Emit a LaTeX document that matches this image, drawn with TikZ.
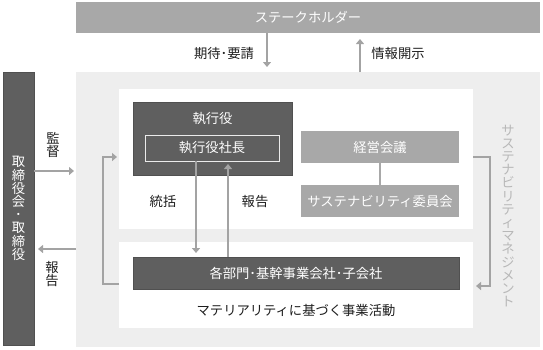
\documentclass[tikz,border=0pt]{standalone}
\usepackage{fontspec}
\setmainfont{Noto Sans CJK JP}
\usetikzlibrary{arrows.meta}
\definecolor{darkbox}{HTML}{5F5F5F}
\definecolor{darkline}{HTML}{505050}
\definecolor{midbox}{HTML}{A8A8A8}
\definecolor{bggray}{HTML}{EEEEEE}
\definecolor{arrgray}{HTML}{A3A3A3}
\definecolor{vtgray}{HTML}{B8B8B8}
\definecolor{txt}{HTML}{1E1E1E}
\tikzset{
  box/.style={rectangle, inner sep=0pt, outer sep=0pt},
  darkrect/.style={box, fill=darkbox, draw=darkline, line width=0.6pt},
  midrect/.style={box, fill=midbox},
  whiterect/.style={box, fill=white},
  wtext/.style={text=white, font=\fontsize{13.3}{14}\selectfont, inner sep=0pt},
  btext/.style={text=txt, font=\fontsize{13.3}{14}\selectfont, inner sep=0pt},
  vtext/.style={align=center, inner sep=0pt, font=\fontsize{13.3}{13.2}\selectfont},
  arr/.style={draw=arrgray, line width=1.3pt, -{Triangle[width=8pt,length=5pt]}},
  link/.style={draw=arrgray, line width=1.3pt},
}
\begin{document}
\begin{tikzpicture}[x=1pt,y=-1pt]
\useasboundingbox (0,0) rectangle (543,349);
% main areas
\node[midrect, minimum width=464pt, minimum height=31pt] (stake) at (308,17.5) {};
\node[wtext] (staketext) at (308,17.5) {ステークホルダー};
\node[box, fill=bggray, minimum width=464pt, minimum height=275pt] (bg) at (308,209.5) {};
\node[darkrect, minimum width=31pt, minimum height=273pt] (board) at (18.5,208.5) {};
\node[vtext, text=white] (boardtext) at (18.5,208.5) {取\\締\\役\\会\\･\\取\\締\\役};
\node[whiterect, minimum width=354pt, minimum height=140pt] (upw) at (296,159) {};
\node[whiterect, minimum width=354pt, minimum height=86pt] (loww) at (296,285) {};
% executive
\node[darkrect, minimum width=159pt, minimum height=73pt] (exec) at (212.5,138.5) {};
\node[wtext] (exectext) at (212.5,119) {執行役};
\node[box, fill=darkbox, draw=white!92!black, line width=0.9pt, minimum width=134pt, minimum height=26pt] (pres) at (212,148) {};
\node[wtext] (prestext) at (212,148) {執行役社長};
% committees
\node[midrect, minimum width=158pt, minimum height=32pt] (keiei) at (380,147) {};
\node[wtext] (keieitext) at (380,147) {経営会議};
\node[midrect, minimum width=158pt, minimum height=32pt] (iinkai) at (380,201) {};
\node[wtext] (iinkaitext) at (380,201) {サステナビリティ委員会};
\draw[draw=midbox, line width=1.3pt] (keiei.south) -- (iinkai.north);
% departments
\node[darkrect, minimum width=326pt, minimum height=32pt] (bu) at (296,273) {};
\node[wtext] (butext) at (296,273) {各部門･基幹事業会社･子会社};
\node[btext] (matext) at (296,310) {マテリアリティに基づく事業活動};
% stakeholder arrows
\draw[arr] ([xshift=-41pt]stake.south) -- ([xshift=-41pt,yshift=5pt]bg.north);
\draw[arr] ([xshift=52pt]bg.north) -- ([xshift=52pt,yshift=-6pt]stake.south);
\node[btext] (kitai) at (224,53) {期待･要請};
\node[btext] (joho) at (398,53) {情報開示};
% board arrows
\coordinate (kantokuS) at ([yshift=37.5pt]board.east);
\draw[arr, shorten >=2pt] (kantokuS) -- (kantokuS -| bg.west);
\node[vtext, text=txt] (kantoku) at (53,145) {監\\督};
\coordinate (hokokuE) at ([yshift=-40.5pt,xshift=4pt]board.east);
\draw[arr] (hokokuE -| bg.west) -- (hokokuE);
\node[vtext, text=txt] (hokokuL) at (52,274) {報\\告};
% executive <-> departments
\draw[arr] ([xshift=-16pt]pres.south) -- ([xshift=-100pt,yshift=4pt]bu.north);
\draw[arr] ([xshift=-68pt]bu.north) -- ([xshift=16pt,yshift=-3pt]pres.south);
\node[btext] (tokatsu) at (163,201) {統括};
\node[btext] (hokokuM) at (255,201) {報告};
% feedback brackets
\draw[arr, shorten >=2pt] ([yshift=1pt]loww.west) -- ++(-16,0) |- ([yshift=2pt]upw.west);
\draw[arr, shorten >=3pt] ([yshift=2pt]upw.east) -- ++(17,0) |- ([yshift=-1pt]loww.east);
\node[vtext, text=vtgray] (sustext) at (508,216) {サ\\ス\\テ\\ナ\\ビ\\リ\\テ\\ィ\\マ\\ネ\\ジ\\メ\\ン\\ト};
\end{tikzpicture}
\end{document}
